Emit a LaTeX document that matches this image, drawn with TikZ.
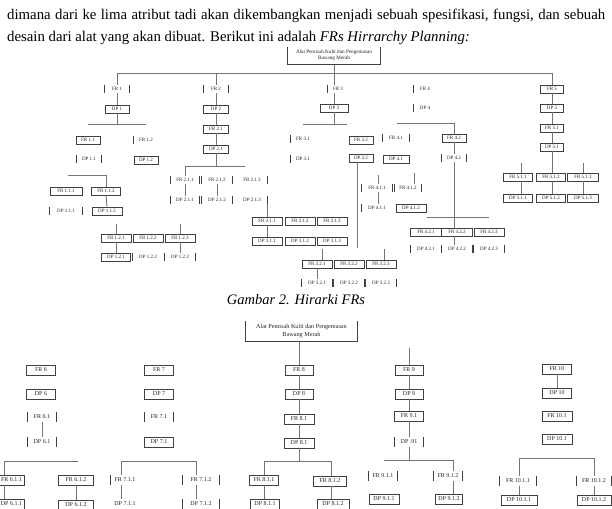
\documentclass[tikz,border=0pt]{standalone}
\usepackage{fontspec}
\setmainfont{Liberation Serif}
\begin{document}
\begin{tikzpicture}[x=1pt,y=-1pt,
  ln/.style={draw=black!55,line width=0.9pt},
  bl/.style={draw=black!75,line width=0.7pt},
  nda/.style={inner sep=0pt,minimum height=8pt,minimum width=24pt,text=black!85,font=\fontsize{5}{6}\selectfont},
  bxa/.style={nda,bl},
  sda/.style={nda},
  ndb/.style={inner sep=0pt,minimum height=10pt,minimum width=29pt,text=black!85,font=\fontsize{6}{7}\selectfont},
  bxb/.style={ndb,bl},
  sdb/.style={ndb},
  txt/.style={inner sep=0pt,anchor=base west,font=\fontsize{14.8}{17}\selectfont}
]
\useasboundingbox[fill=white] (0,0) rectangle (612,508);

% ---------- text ----------
\node[txt] (t1) at (7,19.5) {\makebox[598pt][s]{dimana dari ke lima atribut tadi akan dikembangkan menjadi sebuah spesifikasi, fungsi, dan sebuah}};
\node[txt] (t2) at (7,41.5) {desain dari alat yang akan dibuat. Berikut ini adalah \textit{FRs Hirrarchy Planning:}};
\node[inner sep=0pt,anchor=base,font=\fontsize{14.5}{17}\selectfont\itshape] (cap) at (296,304) {Gambar 2. Hirarki FRs};

% ---------- diagram 1 ----------
\node[nda,minimum width=92pt,minimum height=17pt,align=center,font=\fontsize{5.2}{6.5}\selectfont] (root1) at (334,55.5) {Alat Pemisah Kulit dan Pengemasan\\Bawang Merah};

\node[sda] (fr1) at (117,89) {FR 1};
\node[bxa] (dp1) at (117,109) {DP 1};
\node[bxa] (fr11) at (88,140) {FR 1.1};
\node[sda] (fr12) at (146,140) {FR 1.2};
\node[sda] (dp11) at (89,159) {DP 1.1};
\node[bxa] (dp12) at (146,160) {DP 1.2};
\node[bxa,minimum width=32pt] (fr111) at (66,191) {FR 1.1.1};
\node[bxa,minimum width=29pt] (fr112) at (106,191) {FR 1.1.2};
\node[sda,minimum width=32pt] (dp111) at (66,211) {DP 1.1.1};
\node[bxa,minimum width=30pt] (dp112) at (107,211) {DP 1.1.2};
\node[bxa,minimum width=30pt] (fr121) at (116,238) {FR 1.2.1};
\node[bxa,minimum width=30pt] (fr122) at (148,238) {FR 1.2.2};
\node[bxa,minimum width=30pt] (fr123) at (180,238) {FR 1.2.3};
\node[bxa,minimum width=29pt] (dp121) at (116,257) {DP 1.2.1};
\node[sda,minimum width=30pt] (dp122) at (148,257) {DP 1.2.2};
\node[sda,minimum width=30pt] (dp123) at (180,257) {DP 1.2.3};

\node[sda,minimum width=25pt] (fr2) at (216,89) {FR 2};
\node[bxa,minimum width=25pt] (dp2) at (216,109) {DP 2};
\node[bxa,minimum width=25pt] (fr21) at (216,129) {FR 2.1};
\node[bxa,minimum width=25pt] (dp21) at (216,149) {DP 2.1};
\node[sda,minimum width=29pt] (fr211) at (185,180) {FR 2.1.1};
\node[sda,minimum width=31pt] (fr212) at (217,180) {FR 2.1.2};
\node[sda,minimum width=30pt] (fr213) at (252,180) {FR 2.1.3};
\node[sda,minimum width=29pt] (dp211) at (185,200) {DP 2.1.1};
\node[sda,minimum width=31pt] (dp212) at (217,200) {DP 2.1.2};
\node[sda,minimum width=30pt] (dp213) at (252,200) {DP 2.1.3};

\node[bxa,minimum width=30pt] (fr311) at (267,221) {FR 3.1.1};
\node[bxa,minimum width=30pt] (fr312) at (300,221) {FR 3.1.2};
\node[bxa,minimum width=30pt] (fr313) at (332,221) {FR 3.1.3};
\node[bxa,minimum width=30pt] (dp311) at (267,241) {DP 3.1.1};
\node[bxa,minimum width=30pt] (dp312) at (300,241) {DP 3.1.2};
\node[bxa,minimum width=30pt] (dp313) at (332,241) {DP 3.1.3};
\node[bxa,minimum width=30pt] (fr321) at (317,264) {FR 3.2.1};
\node[bxa,minimum width=30pt] (fr322) at (349,264) {FR 3.2.2};
\node[bxa,minimum width=30pt] (fr323) at (381,264) {FR 3.2.3};
\node[sda,minimum width=30pt] (dp321) at (317,283) {DP 3.2.1};
\node[sda,minimum width=30pt] (dp322) at (349,283) {DP 3.2.2};
\node[sda,minimum width=30pt] (dp323) at (381,283) {DP 3.2.3};

\node[sda,minimum width=20pt] (fr3) at (338,89) {FR 3};
\node[bxa,minimum width=28pt] (dp3) at (334,108) {DP 3};
\node[sda] (fr31) at (303,139) {FR 3.1};
\node[sda] (dp31) at (303,159) {DP 3.1};
\node[bxa] (fr32) at (361,140) {FR 3.2};
\node[bxa] (dp32) at (361,158) {DP 3.2};

\node[sda,minimum width=22pt] (fr4) at (425,89) {FR 4};
\node[sda,minimum width=22pt] (dp4) at (425,108) {DP 4};
\node[sda,minimum width=26pt] (fr41) at (396,138) {FR 4.1};
\node[bxa,minimum width=26pt] (dp41) at (396,159) {DP 4.1};
\node[bxa] (fr42) at (454,138) {FR 4.2};
\node[sda] (dp42) at (454,158) {DP 4.2};
\node[sda,minimum width=30pt] (fr411) at (377,188) {FR 4.1.1};
\node[sda,minimum width=26pt] (fr412) at (408,188) {FR 4.1.2};
\node[sda,minimum width=30pt] (dp411) at (377,208) {DP 4.1.1};
\node[bxa,minimum width=30pt] (dp412) at (411,208) {DP 4.1.2};
\node[bxa,minimum width=31pt] (fr421) at (426,232) {FR 4.2.1};
\node[bxa,minimum width=31pt] (fr422) at (457,232) {FR 4.2.2};
\node[bxa,minimum width=30pt] (fr423) at (489,232) {FR 4.2.3};
\node[sda,minimum width=31pt] (dp421) at (426,249) {DP 4.2.1};
\node[sda,minimum width=31pt] (dp422) at (457,249) {DP 4.2.2};
\node[sda,minimum width=30pt] (dp423) at (489,249) {DP 4.2.3};

\node[bxa,minimum width=23pt] (fr5) at (552,89) {FR 5};
\node[bxa,minimum width=23pt] (dp5) at (552,108) {DP 5};
\node[bxa,minimum width=23pt] (fr51) at (552,128) {FR 5.1};
\node[bxa,minimum width=23pt] (dp51) at (552,147) {DP 5.1};
\node[bxa,minimum width=29pt] (fr511) at (518,177) {FR 5.1.1};
\node[bxa,minimum width=29pt] (fr512) at (551,177) {FR 5.1.2};
\node[bxa,minimum width=31pt] (fr513) at (583,177) {FR 5.1.3};
\node[bxa,minimum width=29pt] (dp511) at (518,198) {DP 5.1.1};
\node[bxa,minimum width=29pt] (dp512) at (551,198) {DP 5.1.2};
\node[bxa,minimum width=31pt] (dp513) at (583,198) {DP 5.1.3};

% connectors diagram 1
\coordinate (busL) at (117,73); \coordinate (busR) at (552,73);
\draw[ln] (busL) -- (busR);
\draw[ln] (busL) -- (fr1.north);
\draw[ln] (fr1.south) -- (dp1.north);
\coordinate (h1L) at (88,124); \coordinate (h1R) at (146,124);
\draw[ln] (dp1.south) -- (dp1.south |- h1L);
\draw[ln] (h1L) -- (h1R);
\coordinate (h11L) at (68,175); \coordinate (h11R) at (106,175);
\draw[ln] (h11L) -- (h11R) -- (fr112.north);
\draw[ln] (fr112.south) -- (dp112.north);
\coordinate (st121) at (116,224); \coordinate (st123) at (180,224);
\draw[ln] (st121) -- (fr121.north);
\draw[ln] (st123) -- (fr123.north);
\draw[ln] (fr121.south) -- (dp121.north);
\draw[ln] (fr123.south) -- (dp123.north);

\draw[ln] (fr2.north |- busL) -- (fr2.north);
\draw[ln] (fr2.south) -- (dp2.north);
\draw[ln] (dp2.south) -- (fr21.north);
\draw[ln] (fr21.south) -- (dp21.north);
\coordinate (h2L) at (185,166); \coordinate (h2R) at (245,166);
\draw[ln] (dp21.south) -- (dp21.south |- h2L);
\draw[ln] (h2L) -- (h2R);
\draw[ln] (h2L) -- (fr211.north);
\draw[ln] (fr211.south) -- (dp211.north);
\draw[ln] (fr212.south) -- (dp212.north);
\coordinate (st31) at (267,204);
\draw[ln] (st31) -- (fr311.north);
\draw[ln] (fr311.south) -- (dp311.north);

\draw[ln] (root1.south) -- (root1.south |- fr3.north);
\draw[ln] (root1.south |- fr3.south) -- (dp3.north);
\coordinate (h3L) at (303,124); \coordinate (h3R) at (347,124);
\draw[ln] (dp3.south) -- (dp3.south |- h3L);
\draw[ln] (h3L) -- (h3R);
\coordinate (j32) at (357,248);
\draw[ln] (dp32.south -| j32) -- (j32);
\coordinate (st321) at (322,249); \coordinate (st323) at (384,249);
\draw[ln] (st321) -- (st321 |- fr321.north);
\draw[ln] (st323) -- (st323 |- fr323.north);
\draw[ln] (fr321.south) -- (dp321.north);

\coordinate (h4L) at (397,123); \coordinate (h4R) at (454,123);
\draw[ln] (h4L) -- (h4R) -- (fr42.north);
\draw[ln] (fr42.south) -- (dp42.north);
\draw[ln] (dp42.south) -- (dp42.south |- fr422.north);
\coordinate (h42L) at (427,217); \coordinate (h42R) at (489,217);
\draw[ln] (h42L) -- (h42R);
\draw[ln] (fr422.south -| dp42.south) -- (dp422.north -| dp42.south);
\coordinate (st411) at (378,175); \coordinate (st412) at (414,173);
\draw[ln] (st411) -- (st411 |- fr411.north);
\draw[ln] (st412) -- (st412 |- fr412.north);
\draw[ln] (fr411.south -| st411) -- (dp411.north -| st411);

\draw[ln] (busR) -- (fr5.north);
\draw[ln] (fr5.south) -- (dp5.north);
\draw[ln] (dp5.south) -- (fr51.north);
\draw[ln] (fr51.south) -- (dp51.north);
\draw[ln] (dp51.south) -- (dp51.south |- fr512.north);
\coordinate (st511) at (521,163); \coordinate (st513) at (583,163);
\draw[ln] (st511) -- (st511 |- fr511.north);
\draw[ln] (st513) -- (fr513.north);
\draw[ln] (fr511.south -| st511) -- (dp511.north -| st511);
\draw[ln] (fr512.south -| dp51.south) -- (dp512.north -| dp51.south);
\draw[ln] (fr513.south) -- (dp513.north);

% ---------- diagram 2 ----------
\node[ndb,minimum width=111pt,minimum height=20pt,align=center,font=\fontsize{6.2}{7.5}\selectfont] (root2) at (301.5,331) {Alat Pemisah Kulit dan Pengemasan\\Bawang Merah};

\node[bxb] (fr6) at (41,370) {FR 6};
\node[bxb] (dp6) at (41,394) {DP 6};
\node[sdb] (fr61) at (42,417) {FR 6.1};
\node[sdb] (dp61) at (42,442) {DP 6.1};
\node[bxb,minimum width=25pt] (fr611) at (11.5,480) {FR 6.1.1};
\node[bxb,minimum width=25pt] (dp611) at (11.5,504) {DP 6.1.1};
\node[bxb,minimum width=35pt] (fr612) at (76,480) {FR 6.1.2};
\node[bxb,minimum width=35pt] (dp612) at (76,505) {DP 6.1.2};

\node[bxb] (fr7) at (159,370) {FR 7};
\node[bxb] (dp7) at (159,394) {DP 7};
\node[sdb] (fr71) at (159,417) {FR 7.1};
\node[bxb] (dp71) at (159,442) {DP 7.1};
\node[sdb,minimum width=28pt] (fr711) at (125,480) {FR 7.1.1};
\node[sdb,minimum width=28pt] (dp711) at (125,504) {DP 7.1.1};
\node[sdb,minimum width=36pt] (fr712) at (201,480) {FR 7.1.2};
\node[sdb,minimum width=36pt] (dp712) at (201,504) {DP 7.1.2};

\node[bxb,minimum width=28pt] (fr8) at (299,370) {FR 8};
\node[bxb,minimum width=28pt] (dp8) at (299,394) {DP 8};
\node[bxb,minimum width=30pt] (fr81) at (299,419) {FR 8.1};
\node[bxb,minimum width=30pt] (dp81) at (299,443) {DP 8.1};
\node[bxb] (fr811) at (264,480) {FR 8.1.1};
\node[bxb] (dp811) at (265,504) {DP 8.1.1};
\node[bxb,minimum width=33pt] (fr812) at (330,481) {FR 8.1.2};
\node[bxb,minimum width=32pt] (dp812) at (333,504) {DP 8.1.2};

\node[bxb,minimum width=28pt] (fr9) at (409,370) {FR 9};
\node[bxb,minimum width=28pt] (dp9) at (409,394) {DP 9};
\node[bxb] (fr91) at (409,416) {FR 9.1};
\node[sdb] (dp91) at (409,442) {DP .91};
\node[sdb] (fr911) at (383,476) {FR 9.1.1};
\node[bxb,minimum width=30pt] (dp911) at (384,499) {DP 9.1.1};
\node[sdb,minimum width=28pt] (fr912) at (448,476) {FR 9.1.2};
\node[bxb,minimum width=27pt] (dp912) at (449,499) {DP 9.1.2};

\node[bxb] (fr10) at (557,369) {FR 10};
\node[bxb] (dp10) at (557,393) {DP 10};
\node[bxb,minimum width=30pt] (fr101) at (557,416) {FR 10.1};
\node[bxb,minimum width=30pt] (dp101) at (557,439) {DP 10.1};
\node[sdb,minimum width=37pt] (fr1011) at (518,481) {FR 10.1.1};
\node[bxb,minimum width=36pt] (dp1011) at (519,500) {DP 10.1.1};
\node[sdb,minimum width=35pt] (fr1012) at (594,481) {FR 10.1.2};
\node[bxb,minimum width=34pt] (dp1012) at (594,500) {DP 10.1.2};

% connectors diagram 2
\draw[ln] (root2.south -| fr8.north) -- (fr8.north);
\draw[ln] (fr8.south) -- (dp8.north);
\draw[ln] (dp8.south) -- (fr81.north);
\draw[ln] (fr81.south) -- (dp81.north);
\coordinate (h8L) at (264,461); \coordinate (h8R) at (331,461);
\draw[ln] (dp81.south) -- (dp81.south |- h8L);
\draw[ln] (h8L) -- (h8R);
\draw[ln] (h8L) -- (fr811.north);
\draw[ln] (fr811.south) -- (fr811.south |- dp811.north);
\draw[ln] (h8R) -- (h8R |- fr812.north);
\draw[ln] (fr812.south -| h8R) -- (dp812.north -| h8R);

\draw[ln] (fr61.south) -- (dp61.north);
\coordinate (h6L) at (4,461); \coordinate (h6R) at (78,461);
\draw[ln] (h6L) -- (h6R);
\draw[ln] (h6L) -- (h6L |- fr611.north);
\draw[ln] (fr611.south -| h6L) -- (dp611.north -| h6L);
\draw[ln] (fr612.south) -- (dp612.north);

\coordinate (h7L) at (121,461); \coordinate (h7R) at (196,461);
\draw[ln] (h7L) -- (h7R);
\draw[ln] (h7L) -- (h7L |- fr711.north);
\draw[ln] (fr711.south -| h7L) -- (dp711.north -| h7L);
\draw[ln] (h7R) -- (h7R |- fr712.north);
\draw[ln] (fr712.south -| h7R) -- (dp712.north -| h7R);

\coordinate (st9) at (409,348);
\draw[ln] (st9) -- (fr9.north);
\draw[ln] (fr9.south) -- (dp9.north);
\draw[ln] (dp9.south) -- (fr91.north);
\draw[ln] (fr91.south) -- (dp91.north);
\coordinate (h9L) at (384,460); \coordinate (h9R) at (453,460);
\draw[ln] (dp91.south) -- (dp91.south |- h9L);
\draw[ln] (h9L) -- (h9R);
\draw[ln] (h9R) -- (h9R |- fr912.north);
\draw[ln] (fr912.south -| h9R) -- (dp912.north -| h9R);

\draw[ln] (fr10.south) -- (dp10.north);
\coordinate (h10L) at (519,458); \coordinate (h10R) at (594,458);
\draw[ln] (h10L) -- (h10R);
\draw[ln] (h10L) -- (h10L |- fr1011.north);
\draw[ln] (fr1011.south -| h10L) -- (dp1011.north -| h10L);
\draw[ln] (h10R) -- (fr1012.north);
\draw[ln] (fr1012.south) -- (dp1012.north);

% ---------- partial borders ----------
\foreach \n in {root1,root2}
  \draw[bl] (\n.north west) -- (\n.south west) -- (\n.south east) -- (\n.north east);
\foreach \n in {fr1,dp11,dp111,dp123,fr2,fr211,fr212,dp211,dp212,dp321,dp322,dp323,fr41,dp42,fr411,fr412,dp421,dp422,dp423,fr61,dp61,fr71,fr712,dp712,dp91,fr911,fr912,fr1011,fr1012}
  \draw[bl] (\n.north west) -- (\n.south west) (\n.north east) -- (\n.south east);
\foreach \n in {fr12,dp122,fr3,fr31,dp31,fr4,dp4,dp411,fr711}
  \draw[bl] (\n.north west) -- (\n.south west);
\foreach \n in {fr213,dp213}
  \draw[bl] (\n.north east) -- (\n.south east);
\end{tikzpicture}
\end{document}
